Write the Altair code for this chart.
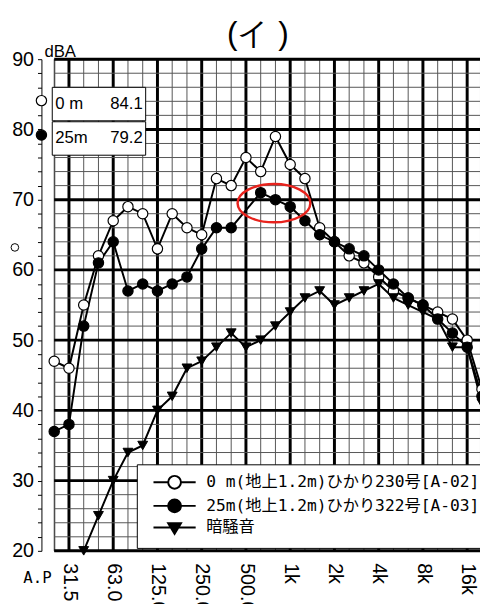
import altair as alt
import pandas as pd

# ---- data ----
bands = ["25", "31.5", "40", "50", "63", "80", "100", "125", "160", "200",
         "250", "315", "400", "500", "630", "800", "1k", "1.25k", "1.6k", "2k",
         "2.5k", "3.15k", "4k", "5k", "6.3k", "8k", "10k", "12.5k", "16k", "20k"]
tick_labels = ["", "31.5", "", "", "63.0", "", "", "125.0", "", "", "250.0", "", "",
               "500.0", "", "", "1k", "", "", "2k", "", "", "4k", "", "", "8k", "", "",
               "16k", ""]
grid_levels = list(range(20, 91, 2))

series_names = ["\u20020 m(地上1.2m)ひかり230号[A-02]",
                "25m(地上1.2m)ひかり322号[A-03]",
                "暗騒音"]
white_vals = [47, 46, 55, 62, 67, 69, 68, 63, 68, 66, 65, 73, 72, 76, 74, 79, 75, 73,
              66, 64, 62, 61, 59, 57, 56, 55, 54, 53, 50, 43]
black_vals = [37, 38, 52, 61, 64, 57, 58, 57, 58, 59, 63, 66, 66, None, 71, 70, 69, 67,
              65, 64, 63, 62, 60, 58, 56, 55, 53, 51, 49, 42]
bg_vals = [None, None, 20, 25, 30, 34, 35, 40, 42, 46, 47, 49, 51, 49, 50, 52, 54, 56,
           57, 55, 56, 57, 58, 56, 55, 54, 53, 49, 49, 41]

ap_names = ["\u00a00 m", "25m"]
ap_values = [84.1, 79.2]
ap_text = ["84.1", "79.2"]
stray_value = [63.2]

highlight_band = [14.9]
highlight_level = [69.5]

title_text = ["(イ )"]
unit_text = ["dBA"]
ap_label = ["A.P"]

# ---- tables ----
rows = []
for name, vals in zip(series_names, [white_vals, black_vals, bg_vals]):
    for i, v in enumerate(vals):
        if v is not None:
            rows.append({"series": name, "i": i, "value": v, "band": bands[i]})
df = pd.DataFrame(rows)
ap_df = pd.DataFrame({"series": series_names[:2], "name": ap_names,
                      "value": ap_values, "txt": ap_text})
legend_df = pd.DataFrame({"series": series_names})
xgrid_df = pd.DataFrame({"i": list(range(len(bands) - 1))})
ygrid_df = pd.DataFrame({"value": grid_levels})

xscale = alt.Scale(domain=[0, 28.87], nice=False, zero=False)
yscale = alt.Scale(domain=[20, 90], nice=False, zero=False)

CIRC = "M-0.2,0H2.1M4.1,0H6.4M4.1,0A1,1 0 1,1 2.1,0A1,1 0 1,1 4.1,0Z"
TRI = "M-0.2,0H6.4M2.1,-0.67L4.1,-0.67L3.1,1.0Z"
RECT = "M-1,-0.358H1V0.358H-1Z"
ELLIPSE = "M-1,0A1,0.527 0 1,0 1,0A1,0.527 0 1,0 -1,0Z"

fill_scale = alt.Scale(domain=series_names, range=["white", "black", "black"])
legend_shape_scale = alt.Scale(domain=series_names, range=[CIRC, CIRC, TRI])

# x tick label expression built from the tick label list (nested conditions)
x_label_expr = "''"
for idx in range(len(tick_labels) - 1, -1, -1):
    if tick_labels[idx]:
        x_label_expr = f"datum.value == {idx} ? '{tick_labels[idx]}' : ({x_label_expr})"

x_axis = alt.Axis(
    values=list(range(0, 29)),
    labelExpr=x_label_expr,
    labelAngle=90, labelFont="Liberation Sans", labelFontSize=20, labelColor="black",
    labelPadding=12, ticks=False, domain=False, grid=False,
    title=None, labelOverlap=False, labelFlush=False, labelBound=False,
)
y_axis = alt.Axis(
    values=grid_levels,
    labelExpr="datum.value % 10 == 0 ? datum.label : ''",
    offset=13, labelFont="Liberation Sans", labelFontSize=20, labelColor="black",
    labelPadding=4, tickSize=4, tickColor="black", tickWidth=1,
    domainColor="black", domainWidth=1, grid=False,
    title=None, labelOverlap=False, labelFlush=False, labelBound=False,
)

legend = alt.Legend(
    title=None, orient="none", legendX=84, legendY=412, padding=10,
    strokeColor="black", fillColor="white", cornerRadius=0,
    symbolSize=169, symbolStrokeWidth=2, symbolStrokeColor="black",
    labelFont="DejaVu Sans Mono, Noto Sans CJK JP", labelFontSize=16.5, labelColor="black",
    labelOffset=44, rowPadding=2, labelLimit=400,
)


def X(field="i"):
    return alt.X(f"{field}:Q", scale=xscale, axis=x_axis)


def Y(field="value"):
    return alt.Y(f"{field}:Q", scale=yscale, axis=y_axis)


xgrid = alt.Chart(xgrid_df).mark_rule().encode(
    x=X(),
    strokeWidth=alt.condition("datum.i % 3 == 1", alt.value(3), alt.value(1)),
    color=alt.condition("datum.i % 3 == 1", alt.value("black"), alt.value("#555555")),
)
ygrid = alt.Chart(ygrid_df).mark_rule().encode(
    y=Y(),
    strokeWidth=alt.condition("datum.value % 10 == 0", alt.value(3), alt.value(1)),
    color=alt.condition("datum.value % 10 == 0", alt.value("black"), alt.value("#555555")),
)

lines = alt.Chart(df).mark_line(color="black", strokeWidth=2, clip=True).encode(
    x=X(), y=Y(), detail="series:N", order="i:Q",
)

circles = alt.Chart(df).transform_filter(
    alt.FieldOneOfPredicate(field="series", oneOf=series_names[:2])
).mark_point(shape="circle", filled=True, stroke="black", strokeWidth=1.2,
             opacity=1, size=110).encode(
    x=X(), y=Y(),
    fill=alt.Fill("series:N", scale=fill_scale, legend=legend),
)
triangles = alt.Chart(df).transform_filter(
    alt.FieldEqualPredicate(field="series", equal=series_names[2])
).mark_point(shape="triangle-down", filled=True, fill="black", stroke="black",
             strokeWidth=1, opacity=1, size=100).encode(
    x=X(), y=Y(),
)

# legend-only layer: its marks sit off the canvas, only the legend is seen
legend_layer = alt.Chart(legend_df).mark_point(filled=True, stroke="black", strokeWidth=2,
                                               opacity=1, size=169).encode(
    x=alt.value(-2000), y=alt.value(-2000),
    fill=alt.Fill("series:N", scale=fill_scale, legend=legend),
    shape=alt.Shape("series:N", scale=legend_shape_scale, legend=legend),
)

ap_boxes = alt.Chart(ap_df).mark_point(shape=RECT, size=9025, filled=True, fill="white",
                                       stroke="black", strokeWidth=1, opacity=1,
                                       yOffset=3.5).encode(
    x=alt.value(45.5), y=Y(),
)
ap_names_t = alt.Chart(ap_df).mark_text(font="Liberation Sans", fontSize=17, align="left",
                                        baseline="middle", dy=3.5, color="black").encode(
    x=alt.value(1), y=Y(), text="name:N")
ap_vals_t = alt.Chart(ap_df).mark_text(font="Liberation Sans", fontSize=17, align="right",
                                       baseline="middle", dy=3.5, color="black").encode(
    x=alt.value(90), y=Y(), text="txt:N")
ap_points = alt.Chart(ap_df).mark_point(shape="circle", filled=True, stroke="black",
                                        strokeWidth=1.2, opacity=1, size=110).encode(
    x=alt.value(-13), y=Y(),
    fill=alt.Fill("series:N", scale=fill_scale, legend=legend),
)
stray = alt.Chart(pd.DataFrame({"value": stray_value})).mark_point(
    shape="circle", filled=True, fill="white", stroke="black", strokeWidth=1, opacity=1,
    size=60).encode(x=alt.value(-40), y=Y())

ellipse = alt.Chart(pd.DataFrame({"i": highlight_band, "value": highlight_level})).mark_point(
    shape=ELLIPSE, size=5476, filled=False, stroke="#e8231d", strokeWidth=2.5, opacity=1).encode(
    x=X(), y=Y(),
)

title = alt.Chart(pd.DataFrame({"t": title_text})).mark_text(
    font="Liberation Sans", fontSize=32, align="center", baseline="alphabetic",
    color="black").encode(x=alt.value(207), y=alt.value(-15), text="t:N")
unit = alt.Chart(pd.DataFrame({"t": unit_text})).mark_text(
    font="Liberation Sans", fontSize=17, align="left", baseline="alphabetic",
    color="black").encode(x=alt.value(-10), y=alt.value(-2), text="t:N")
aplab = alt.Chart(pd.DataFrame({"t": ap_label})).mark_text(
    font="DejaVu Sans Mono", fontSize=16, align="center", baseline="alphabetic",
    color="black").encode(x=alt.value(-17), y=alt.value(533), text="t:N")

chart = alt.layer(
    xgrid, ygrid, lines, circles, triangles, ap_boxes, ap_names_t, ap_vals_t, ap_points,
    stray, ellipse, title, unit, aplab, legend_layer,
).properties(
    width=433, height=500,
    autosize=alt.AutoSizeParams(type="none"),
    padding={"left": 47, "top": 47, "right": 0, "bottom": 49},
).configure_view(stroke="black", strokeWidth=1)

chart.save("out.html", embed_options={"renderer": "svg", "actions": False})
